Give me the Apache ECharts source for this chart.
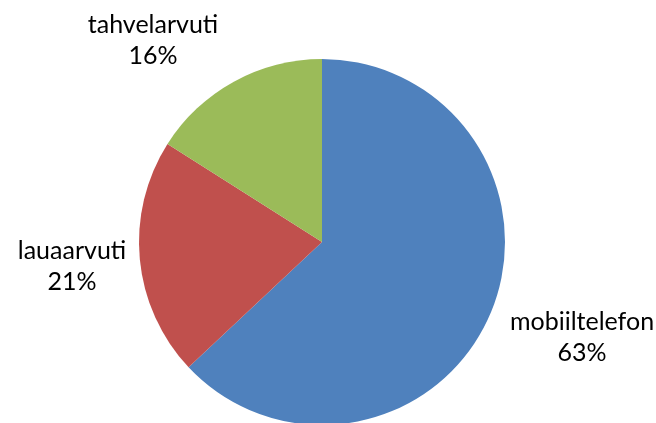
<!DOCTYPE html>
<html>
<head>
<meta charset="utf-8">
<script src="https://cdn.jsdelivr.net/npm/echarts@6/dist/echarts.min.js"></script>
<style>
  html, body { margin: 0; padding: 0; background: #ffffff; }
  #chart { width: 656px; height: 423px; }
</style>
</head>
<body>
<div id="chart"></div>
<script>
// Device shares (percent)
const categories = ['mobiiltelefon', 'lauaarvuti', 'tahvelarvuti'];
const shares = [63, 21, 16];
const colors = ['#4F81BD', '#C0504D', '#9BBB59'];

// Label anchor points beside each slice
const labelSpots = [[582, 337], [72, 266], [153, 40]];

const chart = echarts.init(document.getElementById('chart'), null, { renderer: 'canvas' });

chart.setOption({
  animation: false,
  backgroundColor: '#ffffff',
  series: [{
    type: 'pie',
    center: [322, 242],
    radius: [0, 183],
    startAngle: 90,
    clockwise: true,
    data: categories.map((name, i) => ({
      name: name,
      value: shares[i],
      itemStyle: { color: colors[i] }
    })),
    itemStyle: { borderWidth: 0 },
    label: {
      show: true,
      position: 'outside',
      formatter: '{b}\n{d}%',
      color: '#000000',
      fontFamily: 'Lato',
      fontSize: 25,
      lineHeight: 31,
      align: 'center',
      overflow: 'none'
    },
    labelLine: { show: false },
    labelLayout: function (params) {
      const p = labelSpots[params.dataIndex];
      return { x: p[0], y: p[1], align: 'center', verticalAlign: 'middle' };
    },
    emphasis: { disabled: true }
  }]
});
</script>
</body>
</html>
